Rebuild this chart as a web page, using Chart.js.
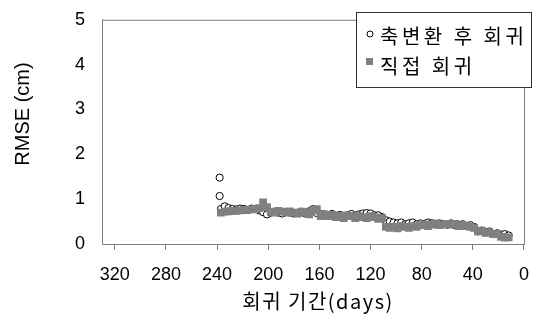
<!DOCTYPE html>
<html>
<head>
<meta charset="utf-8">
<script src="https://cdn.jsdelivr.net/npm/chart.js@4"></script>
<style>
  body { margin: 0; background: #fff; }
  #wrap { width: 543px; height: 320px; }
</style>
</head>
<body>
<div id="wrap"><canvas id="rmse"></canvas></div>
<script>
// data
const days = [237, 234, 231, 228, 225, 222, 219, 216, 213, 210, 207, 204, 201, 198, 195, 192, 189, 186, 183, 180,
  177, 174, 171, 168, 165, 162, 159, 156, 153, 150, 147, 144, 141, 138, 135, 132, 129, 126, 123, 120,
  117, 114, 111, 108, 105, 102, 99, 96, 93, 90, 87, 84, 81, 78, 75, 72, 69, 66, 63, 60,
  57, 54, 51, 48, 45, 42, 39, 36, 33, 30, 27, 24, 21, 18, 15, 12];

const circle_values = [0.78, 0.84, 0.80, 0.78, 0.77, 0.79, 0.78, 0.76, 0.79, 0.78, 0.75, 0.71, 0.66, 0.70, 0.72, 0.70, 0.68, 0.71, 0.70, 0.68,
  0.69, 0.72, 0.68, 0.73, 0.78, 0.69, 0.67, 0.66, 0.63, 0.67, 0.63, 0.65, 0.62, 0.64, 0.67, 0.63, 0.66, 0.68, 0.69, 0.68,
  0.64, 0.64, 0.60, 0.53, 0.50, 0.48, 0.46, 0.48, 0.44, 0.46, 0.48, 0.44, 0.46, 0.45, 0.48, 0.46, 0.44, 0.46, 0.44, 0.43,
  0.46, 0.42, 0.43, 0.44, 0.40, 0.42, 0.38, 0.28, 0.30, 0.26, 0.28, 0.22, 0.24, 0.21, 0.22, 0.19];

const square_values = [0.70, 0.72, 0.73, 0.74, 0.74, 0.75, 0.76, 0.76, 0.77, 0.78, 0.80, 0.93, 0.82, 0.72, 0.70, 0.74, 0.72, 0.70, 0.73, 0.70,
  0.68, 0.72, 0.70, 0.66, 0.75, 0.78, 0.62, 0.66, 0.62, 0.65, 0.60, 0.63, 0.58, 0.64, 0.62, 0.58, 0.62, 0.60, 0.58, 0.62,
  0.60, 0.56, 0.58, 0.38, 0.36, 0.38, 0.35, 0.40, 0.38, 0.36, 0.40, 0.38, 0.42, 0.44, 0.40, 0.43, 0.46, 0.42, 0.44, 0.45,
  0.43, 0.45, 0.40, 0.42, 0.40, 0.38, 0.36, 0.28, 0.30, 0.25, 0.26, 0.22, 0.22, 0.16, 0.14, 0.15];

// two early outliers of the first series
const outlier_days = [238, 238];
const outlier_values = [1.48, 1.07];

const x_ticks = [320, 280, 240, 200, 160, 120, 80, 40, 0];
const y_ticks = [0, 1, 2, 3, 4, 5];

const series_names = ["축변환 후 회귀", "직접 회귀"];

const circle_points = outlier_days.map((d, i) => ({ x: d, y: outlier_values[i] }))
  .concat(days.map((d, i) => ({ x: d, y: circle_values[i] })));
const square_points = days.map((d, i) => ({ x: d, y: square_values[i] }));

const latin = '"Liberation Sans", Arial, sans-serif';
const hangul = '"Noto Sans CJK KR", sans-serif';

const frame = {
  id: "frame",
  afterDraw(chart) {
    const ctx = chart.ctx;
    const a = chart.chartArea;
    ctx.save();
    // plot border
    ctx.strokeStyle = "#808080";
    ctx.lineWidth = 1;
    ctx.strokeRect(a.left + 0.5, a.top + 0.5, a.right - a.left, a.bottom - a.top);

    // axis titles
    ctx.fillStyle = "#000";
    ctx.textAlign = "center";
    ctx.textBaseline = "middle";
    ctx.font = "20px " + hangul;
    ctx.letterSpacing = "1.5px";
    ctx.fillText("회귀 기간(days)", 318, 301);
    ctx.letterSpacing = "0px";
    ctx.translate(23, 114);
    ctx.rotate(-Math.PI / 2);
    ctx.font = "20px " + latin;
    ctx.fillText("RMSE (cm)", 0, 0);
    ctx.restore();

    // legend
    ctx.save();
    ctx.fillStyle = "#fff";
    ctx.fillRect(356, 12, 175, 75);
    ctx.strokeStyle = "#333";
    ctx.strokeRect(356.5, 12.5, 175, 75);
    ctx.beginPath();
    ctx.arc(370, 34, 3, 0, Math.PI * 2);
    ctx.strokeStyle = "#000";
    ctx.stroke();
    ctx.fillStyle = "#808080";
    ctx.fillRect(366, 58, 7, 7);
    ctx.fillStyle = "#000";
    ctx.textBaseline = "middle";
    ctx.font = "20px " + hangul;
    ctx.letterSpacing = "3.5px";
    ctx.fillText(series_names[0], 380, 36);
    ctx.fillText(series_names[1], 380, 66);
    ctx.restore();
  },
};

new Chart(document.getElementById("rmse"), {
  type: "scatter",
  data: {
    datasets: [
      // first dataset is painted last, so the squares sit on top
      {
        label: series_names[1],
        data: square_points,
        pointStyle: "rect",
        pointRadius: 5.5,
        borderWidth: 0,
        borderColor: "#808080",
        backgroundColor: "#808080",
      },
      {
        label: series_names[0],
        data: circle_points,
        pointStyle: "circle",
        pointRadius: 3.6,
        borderColor: "#000",
        borderWidth: 1,
        backgroundColor: "#fff",
      },
    ],
  },
  options: {
    responsive: true,
    maintainAspectRatio: false,
    animation: false,
    layout: { padding: { top: 13, right: 10, left: 0, bottom: 0 } },
    scales: {
      x: {
        type: "linear",
        reverse: true,
        min: 0,
        max: 330,
        afterBuildTicks: (axis) => {
          axis.ticks = x_ticks.map((v) => ({ value: v }));
        },
        afterFit: (axis) => {
          axis.height = 76;
        },
        ticks: {
          color: "#000",
          font: { family: latin, size: 18 },
          padding: 14,
          maxRotation: 0,
        },
        grid: {
          display: true,
          drawOnChartArea: false,
          drawTicks: true,
          tickLength: 6,
          color: "#808080",
        },
        border: { display: true, color: "#808080" },
      },
      y: {
        min: 0,
        max: 5,
        afterBuildTicks: (axis) => {
          axis.ticks = y_ticks.map((v) => ({ value: v }));
        },
        afterFit: (axis) => {
          axis.width = 102;
        },
        ticks: {
          color: "#000",
          font: { family: latin, size: 18 },
          padding: 9,
        },
        grid: { display: false },
        border: { display: true, color: "#808080" },
      },
    },
    plugins: {
      legend: { display: false },
      tooltip: { enabled: false },
    },
  },
  plugins: [frame],
});
</script>
</body>
</html>
